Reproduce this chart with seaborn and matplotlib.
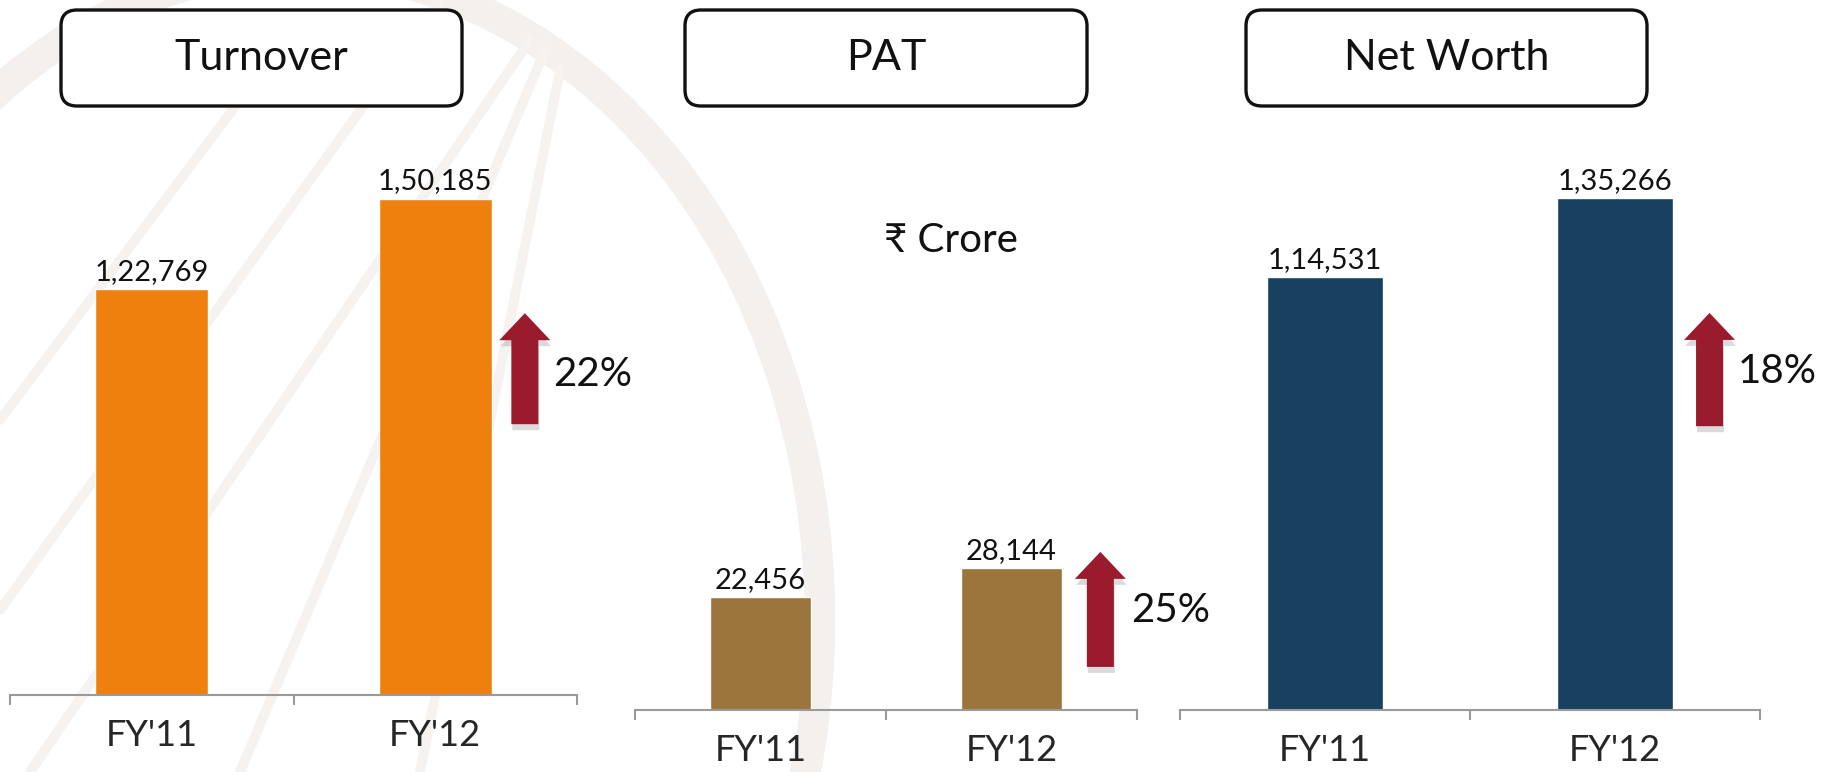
import matplotlib
matplotlib.use("Agg")
import matplotlib.pyplot as plt
import seaborn as sns
from matplotlib.patches import FancyBboxPatch, FancyArrow, Ellipse
from matplotlib.lines import Line2D

# Data (Rs crore)
years = ["FY'11", "FY'12"]
turnover = [122769, 150185]
pat = [22456, 28144]
net_worth = [114531, 135266]
growth = ["22%", "25%", "18%"]
titles = ["Turnover", "PAT", "Net Worth"]
colors = ["#EF800E", "#9C753D", "#17415E"]

sns.set_style("white")
plt.rcParams['font.family'] = ['Lato', 'DejaVu Sans']

W, H = 1825, 772
fig = plt.figure(figsize=(W / 100, H / 100), dpi=100)


def indian(n):
    # 1,22,769 style grouping
    s = str(n)
    if len(s) <= 3:
        return s
    head, tail = s[:-3], s[-3:]
    parts = []
    while len(head) > 2:
        parts.insert(0, head[-2:])
        head = head[:-2]
    if head:
        parts.insert(0, head)
    return ",".join(parts) + "," + tail


# faint watermark in the background
bg = fig.add_axes([0, 0, 1, 1], zorder=-10)
bg.set_xlim(0, W)
bg.set_ylim(H, 0)
bg.axis("off")
bg.add_patch(Ellipse((300, 620), 1040, 1300, fill=False, lw=22, ec="#f3f0ee"))
for x0, y0, x1, y1 in [(0, 610, 440, 0), (30, 772, 530, 40), (240, 772, 545, 50),
                       (420, 772, 560, 70), (0, 420, 300, 20)]:
    bg.add_line(Line2D([x0, x1], [y0, y1], lw=7, color="#f5f2f0", solid_capstyle="round"))

# panel layout in pixels: left, width, baseline, top
layout = [(10, 567, 695, 120), (635, 502, 710, 120), (1180, 580, 710, 120)]
ytops = [174000, 117000, 156000]
series = [turnover, pat, net_worth]
# arrow: x centre, bottom, top (axes fraction); percent text x, y
arrows = [(0.908, 0.471, 0.664, 0.958, 0.558),
          (0.927, 0.073, 0.268, 0.988, 0.169),
          (0.913, 0.481, 0.673, 0.962, 0.573)]
boxes = [(61, 462), (685, 1087), (1246, 1647)]

for i in range(3):
    left, width, base, top = layout[i]
    ax = fig.add_axes([left / W, (H - base) / H, width / W, (base - top) / H])
    sns.barplot(x=years, y=series[i], color=colors[i], saturation=1, width=0.4, ax=ax)
    ax.set_xlim(-0.5, 1.5)
    ax.set_ylim(0, ytops[i])
    ax.patch.set_alpha(0)
    for s in ["top", "left", "right"]:
        ax.spines[s].set_visible(False)
    ax.spines["bottom"].set_color("#9a9a9a")
    ax.spines["bottom"].set_linewidth(1.5)
    ax.set_yticks([])
    ax.set_xticks([-0.5, 0.5, 1.5], minor=True)
    ax.tick_params(axis="x", which="major", length=0, pad=17, labelsize=26)
    ax.tick_params(axis="x", which="minor", bottom=True, length=7, width=1.5,
                   color="#9a9a9a", direction="out")
    ax.set_xlabel("")
    ax.set_ylabel("")
    ax.bar_label(ax.containers[0], labels=[indian(v) for v in series[i]],
                 padding=3, fontsize=21, color="#111111")

    # growth arrow with soft shadow
    xc, y0, y1, tx, ty = arrows[i]
    hpx = base - top
    kw = dict(width=27 / width, head_width=51 / width, head_length=27 / hpx,
              length_includes_head=True, transform=ax.transAxes, clip_on=False)
    ax.add_patch(FancyArrow(xc + 1 / width, y0 - 6 / hpx, 0, y1 - y0, color="#888888",
                            alpha=0.3, lw=0, **kw))
    ax.add_patch(FancyArrow(xc, y0, 0, y1 - y0, color="#9A1B2E", lw=0, **kw))
    ax.text(tx, ty, growth[i], transform=ax.transAxes, fontsize=29,
            va="center", ha="left", color="#111111", clip_on=False)

    # rounded title box
    bx0, bx1 = boxes[i]
    fig.patches.append(FancyBboxPatch((bx0 / 100, (H - 106) / 100), (bx1 - bx0) / 100, 0.96,
                                      boxstyle="round,pad=0,rounding_size=0.16",
                                      transform=fig.dpi_scale_trans, fc="white",
                                      ec="#111111", lw=2.4))
    fig.text((bx0 + bx1) / 2 / W, (H - 58) / H, titles[i], fontsize=31,
             ha="center", va="center", color="#111111")

fig.text(951 / W, (H - 241) / H, "₹ Crore", fontsize=29, ha="center", va="center",
         color="#111111")

plt.savefig("out.png", dpi=100)
